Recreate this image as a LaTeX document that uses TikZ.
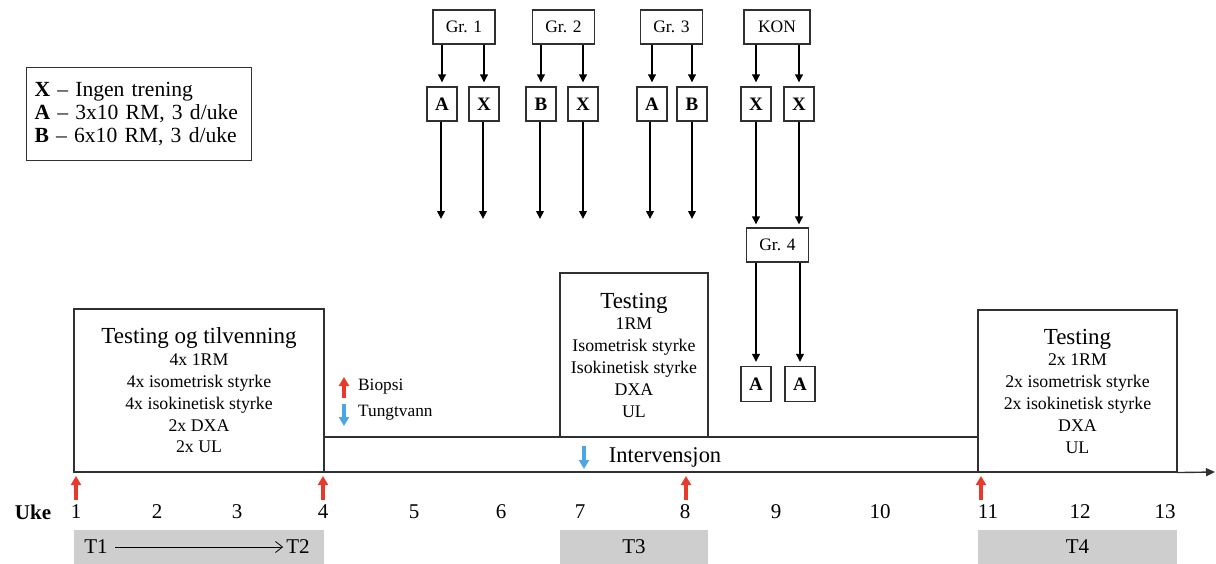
\documentclass[tikz,border=0pt]{standalone}
\usepackage{fontspec}
\setmainfont{Liberation Serif}
\usetikzlibrary{arrows.meta}

\definecolor{mark red}{HTML}{E8392D}
\definecolor{mark blue}{HTML}{4BA6E6}
\definecolor{bar gray}{HTML}{CFCECF}
\definecolor{frame}{HTML}{303030}

\begin{document}
\begin{tikzpicture}[x=1pt,y=-1pt,
  box/.style={draw=frame, line width=1.1pt, inner sep=0pt, align=center},
  grp/.style={box, minimum width=62pt, minimum height=34pt, font=\fontsize{17.5}{20}\selectfont},
  tag/.style={box, minimum width=30pt, minimum height=34pt, font=\bfseries\fontsize{19}{20}\selectfont},
  testbox/.style={box, font=\fontsize{17.8}{21.8}\selectfont},
  flow/.style={-{Triangle[length=8pt,width=7.5pt]}, line width=2pt},
  upmark/.style={-{Triangle[length=9pt,width=10pt]}, line width=3.4pt, draw=mark red, fill=mark red},
  downmark/.style={-{Triangle[length=9pt,width=10pt]}, line width=3.4pt, draw=mark blue, fill=mark blue},
  wk/.style={font=\fontsize{21}{22}\selectfont},
  bar/.style={fill=bar gray, inner sep=0pt, font=\fontsize{21}{22}\selectfont},
  note/.style={font=\fontsize{17.3}{20}\selectfont, anchor=west, inner sep=0pt}]
\useasboundingbox (0,0) rectangle (1216,563);

% legend of the training variants
\node[box, anchor=north west, text width=209pt, inner xsep=8pt, minimum height=93pt,
      align=left, font=\fontsize{21.6}{23}\selectfont] (legend) at (26,67)
  {\textbf{X} -- Ingen trening\\ \textbf{A} -- 3x10 RM, 3 d/uke\\ \textbf{B} -- 6x10 RM, 3 d/uke};

% groups
\node[grp] (g1) at (464,27) {Gr. 1};
\node[grp] (g2) at (563.5,27) {Gr. 2};
\node[grp] (g3) at (671.5,27) {Gr. 3};
\node[grp, minimum width=66pt] (kon) at (777,27) {KON};

% leg assignments
\node[tag] (t1a) at (442,104) {A};
\node[tag] (t1b) at (484,104) {X};
\node[tag] (t2a) at (541,104) {B};
\node[tag] (t2b) at (583,104) {X};
\node[tag] (t3a) at (652,104) {A};
\node[tag] (t3b) at (692,104) {B};
\node[tag] (k1) at (756,104) {X};
\node[tag] (k2) at (799,104) {X};

\foreach \g/\a/\b in {g1/t1a/t1b, g2/t2a/t2b, g3/t3a/t3b, kon/k1/k2}{
  \draw[flow, shorten >=4pt] (\a |- \g.south) -- (\a.north);
  \draw[flow, shorten >=4pt] (\b |- \g.south) -- (\b.north);
}

% free ends of the long arrows
\foreach \n/\x in {1/441,2/483,3/540,4/583,5/650,6/692}
  \coordinate (e\n) at (\x,219);
\draw[flow] (t1a.south -| e1) -- (e1);
\draw[flow] (t1b.south -| e2) -- (e2);
\draw[flow] (t2a.south -| e3) -- (e3);
\draw[flow] (t2b.south -| e4) -- (e4);
\draw[flow] (t3a.south -| e5) -- (e5);
\draw[flow] (t3b.south -| e6) -- (e6);

% control group crossing over
\node[grp] (g4) at (777.5,245) {Gr. 4};
\draw[flow, shorten >=3pt] (k1.south) -- (k1.south |- g4.north);
\draw[flow, shorten >=3pt] (k2.south) -- (k2.south |- g4.north);
\node[tag, minimum height=35pt] (a4a) at (756,384) {A};
\node[tag, minimum height=35pt] (a4b) at (800,384) {A};
\draw[flow, shorten >=4pt] (a4a |- g4.south) -- (a4a.north);
\draw[flow, shorten >=4pt] (a4b |- g4.south) -- (a4b.north);

% test blocks and intervention
\node[testbox, minimum width=250pt, minimum height=163pt] (pre) at (199,390.5)
  {{\fontsize{23}{24}\selectfont Testing og tilvenning}\\4x 1RM\\4x isometrisk styrke\\4x isokinetisk styrke\\2x DXA\\2x UL};
\node[box, minimum width=654pt, minimum height=35pt] (int) at (651,454.5) {};
\node[font=\fontsize{22.5}{24}\selectfont, inner sep=0pt] (intlbl) at (665,457) {Intervensjon};
\node[testbox, fill=white, minimum width=148pt, minimum height=164pt] (mid) at (634,355)
  {{\fontsize{23}{24}\selectfont Testing}\\1RM\\Isometrisk styrke\\Isokinetisk styrke\\DXA\\UL};
\node[testbox, minimum width=199pt, minimum height=162pt] (post) at (1077.5,391)
  {{\fontsize{23}{24}\selectfont Testing}\\2x 1RM\\2x isometrisk styrke\\2x isokinetisk styrke\\DXA\\UL};
\coordinate (axend) at (1215,472);
\draw[-{Triangle[length=9pt,width=8pt]}, line width=1.4pt, draw=frame] (post.south east) -- (axend);

% marker key
\coordinate (bioA) at (344,398);
\coordinate (bioB) at (344,377);
\draw[upmark] (bioA) -- (bioB);
\node[note] (biolbl) at (358,387) {Biopsi};
\coordinate (twA) at (344,404);
\coordinate (twB) at (344,426);
\draw[downmark] (twA) -- (twB);
\node[note] (twlbl) at (358,413) {Tungtvann};

\coordinate (dwA) at (584,446);
\coordinate (dwB) at (584,469);
\draw[downmark] (dwA) -- (dwB);

% week axis
\node[wk, font=\bfseries\fontsize{21}{22}\selectfont] (uke) at (33,512) {Uke};
\foreach \w/\x in {1/76,2/157,3/237,4/323,5/414,6/501,7/580,8/685,9/776,10/880,11/988,12/1080,13/1165}
  \node[wk] (w\w) at (\x,512) {\w};

\foreach \w/\x in {1/76,4/323,8/686,11/981}{
  \coordinate (bs\w) at (\x,500);
  \coordinate (bt\w) at (\x,476);
  \draw[upmark] (bs\w) -- (bt\w);
}

% test periods
\node[bar, minimum width=250pt, minimum height=34pt] (p12) at (199,547) {};
\node[bar, inner sep=0pt] (tone) at (96,547) {T1};
\node[bar, inner sep=0pt] (ttwo) at (298,547) {T2};
\coordinate (tarr) at ([xshift=7pt]tone.east);
\draw[-{Straight Barb[length=7pt,width=11pt]}, line width=0.8pt, shorten >=3pt] (tarr) -- (ttwo.west);
\node[bar, minimum width=148pt, minimum height=34pt] (p3) at (634,547) {T3};
\node[bar, minimum width=199pt, minimum height=34pt] (p4) at (1077.5,547) {T4};
\end{tikzpicture}
\end{document}
